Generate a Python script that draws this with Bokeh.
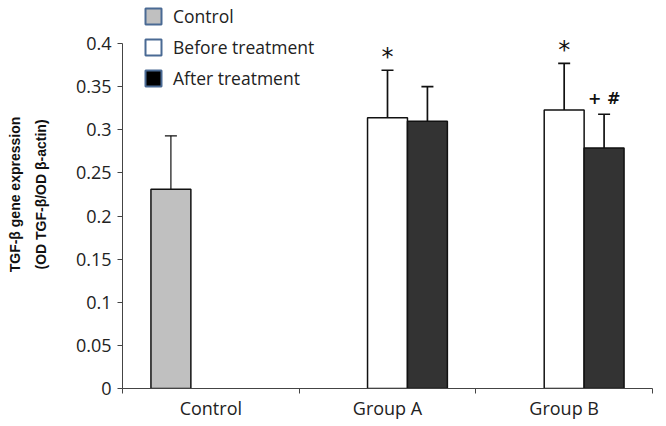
from bokeh.plotting import figure
from bokeh.models import (ColumnDataSource, Range1d, LinearAxis, FixedTicker,
                          Whisker, TeeHead, Legend, LegendItem)
from bokeh.core.properties import value
from bokeh.embed import file_html
from bokeh.resources import INLINE

# ---------------- data ----------------
categories = ["Control", "Group A", "Group B"]
series_names = ["Control", "Before treatment", "After treatment"]

control_cats = ["Control"]
control_vals = [0.231]
control_err = [0.062]

before_cats = ["Group A", "Group B"]
before_vals = [0.314, 0.323]
before_err = [0.055, 0.054]

after_cats = ["Group A", "Group B"]
after_vals = [0.310, 0.279]
after_err = [0.040, 0.039]

ann_cats = ["Group A", "Group B", "Group B"]
ann_series = ["Before treatment", "Before treatment", "After treatment"]
ann_text = ["*", "*", "+ #"]

y_ticks = [0, 0.05, 0.1, 0.15, 0.2, 0.25, 0.3, 0.35, 0.4]
y_tick_labels = ["0", "0.05", "0.1", "0.15", "0.2", "0.25", "0.3", "0.35", "0.4"]

# ---------------- style ----------------
FONT = "Open Sans"
BAR_W = 0.226
offsets = {"Control": -BAR_W, "Before treatment": 0.0, "After treatment": BAR_W}
fills = {"Control": "#c0c0c0", "Before treatment": "#ffffff", "After treatment": "#333333"}
legend_fills = {"Control": "#c0c0c0", "Before treatment": "#ffffff", "After treatment": "#000000"}
whisker_w = {"Control": 1.2, "Before treatment": 1.7, "After treatment": 1.7}

def cat_pos(c, s):
    # category slot i spans [i, i+1]; series are dodged around the slot centre
    return categories.index(c) + 0.5 + offsets[s]

x_boundaries = list(range(len(categories) + 1))
x_centers = [i + 0.5 for i in range(len(categories))]

p = figure(x_range=Range1d(0, len(categories)),
           y_range=Range1d(0, 0.4499),
           frame_width=530, frame_height=388,
           min_border_left=122, min_border_right=14, min_border_top=0, min_border_bottom=38,
           x_axis_location=None,
           output_backend="svg", toolbar_location=None)
p.outline_line_color = None
p.xgrid.grid_line_color = None
p.ygrid.grid_line_color = None
p.background_fill_color = "white"
p.border_fill_color = "white"

groups = [
    ("Control", control_cats, control_vals, control_err),
    ("Before treatment", before_cats, before_vals, before_err),
    ("After treatment", after_cats, after_vals, after_err),
]

for name, cats, vals, errs in groups:
    src = ColumnDataSource(dict(x=[cat_pos(c, name) for c in cats], val=vals,
                                upper=[v + e for v, e in zip(vals, errs)],
                                lower=[v - e for v, e in zip(vals, errs)]))
    p.vbar(x="x", top="val", bottom=0,
           width=BAR_W, source=src, fill_color=fills[name],
           line_color="#111111", line_width=1.5)
    lw = whisker_w[name]
    w = Whisker(base="x", upper="upper", lower="lower",
                source=src, dimension="height",
                line_color="#111111", line_width=lw,
                upper_head=TeeHead(size=12, line_color="#111111", line_width=lw),
                lower_head=TeeHead(size=12, line_color="#111111", line_width=lw))
    p.add_layout(w)

# annotations above error bars
lookup = {}
for name, cats, vals, errs in groups:
    for c, v, e in zip(cats, vals, errs):
        lookup[(c, name)] = v + e
for c, s, t in zip(ann_cats, ann_series, ann_text):
    src = ColumnDataSource(dict(x=[cat_pos(c, s)], y=[lookup[(c, s)]], t=[t]))
    big = t == "*"
    p.text(x="x", y="y", text="t", source=src,
           text_align="center", text_baseline="middle",
           y_offset=-13 if big else -16,
           text_font=value("DejaVu Sans"),
           text_font_size="24px" if big else "16px",
           text_font_style="normal" if big else "bold",
           text_color="#111111")

# legend swatches (renderers with no drawable data; used only for the legend glyph)
nan = float("nan")
items = []
for name in series_names:
    r = p.quad(left=[nan], right=[nan], top=[nan], bottom=[nan],
               fill_color=legend_fills[name], line_color="#4a6a94", line_width=2)
    items.append(LegendItem(label=name, renderers=[r]))
legend = Legend(items=items, location=(21, 298), orientation="vertical",
                glyph_width=20, glyph_height=20, label_height=20, spacing=7,
                label_standoff=10, padding=0, margin=0,
                border_line_color=None, background_fill_alpha=0,
                label_text_font=FONT, label_text_font_size="17.5px",
                label_text_color="#222222")
p.add_layout(legend, "center")

# y axis
ya = p.yaxis[0]
ya.ticker = FixedTicker(ticks=y_ticks)
ya.bounds = (0, 0.4)
ya.major_label_overrides = dict(zip(y_ticks, y_tick_labels))
ya.major_label_text_font = FONT
ya.major_label_text_font_size = "18px"
ya.major_label_text_color = "#222222"
ya.major_label_standoff = 6
ya.major_tick_out = 5
ya.major_tick_in = 0
ya.minor_tick_line_color = None
ya.axis_line_color = "#444444"
ya.major_tick_line_color = "#444444"
ya.axis_label = "TGF-\u03b2 gene expression\n(OD TGF-\u03b2/OD \u03b2-actin)"
ya.axis_label_text_font = "Liberation Sans"
ya.axis_label_text_font_style = "bold"
ya.axis_label_text_font_size = "14px"
ya.axis_label_text_line_height = 1.6
ya.axis_label_text_color = "#111111"
ya.axis_label_standoff = 24

# x axis: labels at category centres, ticks at category boundaries
xa = LinearAxis(ticker=FixedTicker(ticks=x_centers, minor_ticks=x_boundaries))
xa.major_label_overrides = dict(zip(x_centers, categories))
xa.major_label_text_font = FONT
xa.major_label_text_font_size = "18px"
xa.major_label_text_color = "#222222"
xa.major_tick_line_color = None
xa.major_tick_out = 0
xa.major_tick_in = 0
xa.minor_tick_out = 5
xa.minor_tick_in = 0
xa.minor_tick_line_color = "#444444"
xa.axis_line_color = "#444444"
xa.major_label_standoff = 2
p.add_layout(xa, "below")

open("out.html", "w").write(file_html(p, INLINE))
